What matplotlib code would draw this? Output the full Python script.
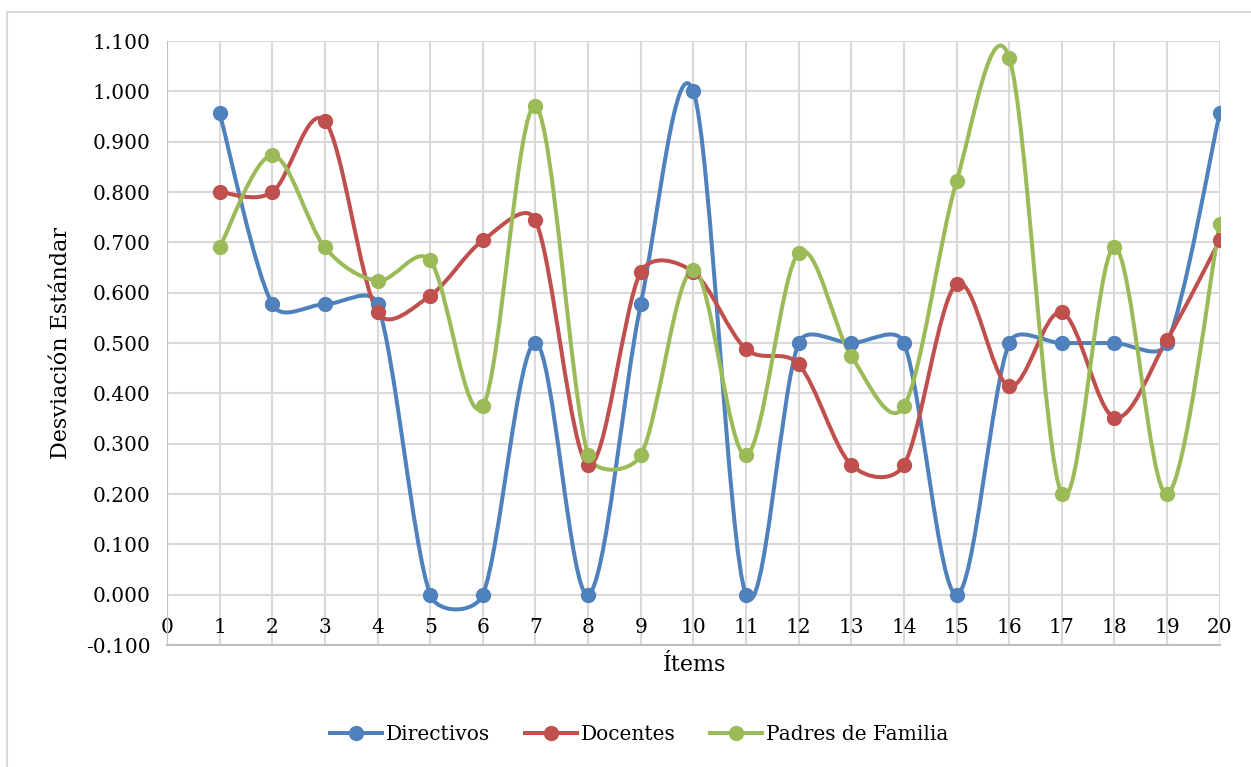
import numpy as np
import matplotlib.pyplot as plt
from matplotlib.path import Path
from matplotlib.patches import PathPatch
from matplotlib.lines import Line2D

items = list(range(1, 21))

directivos = [0.957, 0.577, 0.577, 0.577, 0.000, 0.000, 0.500, 0.000, 0.577, 1.000,
              0.000, 0.500, 0.500, 0.500, 0.000, 0.500, 0.500, 0.500, 0.500, 0.957]
docentes = [0.800, 0.800, 0.941, 0.561, 0.594, 0.704, 0.744, 0.258, 0.641, 0.641,
            0.488, 0.458, 0.258, 0.258, 0.617, 0.414, 0.561, 0.352, 0.507, 0.704]
padres = [0.690, 0.873, 0.690, 0.624, 0.664, 0.374, 0.970, 0.277, 0.277, 0.646,
          0.277, 0.679, 0.474, 0.374, 0.821, 1.067, 0.200, 0.690, 0.200, 0.737]

series = [("Directivos", directivos, "#4F81BD"),
          ("Docentes", docentes, "#C0504D"),
          ("Padres de Familia", padres, "#9BBB59")]

yticks = np.round(np.arange(-0.1, 1.101, 0.1), 1)


def smooth_path(x, y, sx, sy):
    # curva suavizada tipo Excel: brazo de control = 1/6 de la cuerda
    # vecina, limitado a una fraccion del tramo (medido en pixeles)
    p = np.column_stack([x, y]).astype(float)
    esc = np.array([sx, sy])
    n = len(p)

    def dist(a, b):
        return np.hypot(*((b - a) * esc))

    def factor(d_tramo, d_cuerda):
        if d_cuerda == 0:
            return 0.0
        return min(1 / 6, 0.4 * d_tramo / d_cuerda)

    verts = [p[0]]
    codes = [Path.MOVETO]
    for i in range(n - 1):
        p0 = p[i - 1] if i > 0 else p[i]
        p3 = p[i + 2] if i + 2 < n else p[i + 1]
        d12 = dist(p[i], p[i + 1])
        c1 = p[i] + (p[i + 1] - p0) * factor(d12, dist(p0, p[i + 1]))
        c2 = p[i + 1] - (p3 - p[i]) * factor(d12, dist(p[i], p3))
        verts += [c1, c2, p[i + 1]]
        codes += [Path.CURVE4] * 3
    return Path(verts, codes)


plt.rcParams["font.family"] = ["DejaVu Serif"]

fig = plt.figure(figsize=(12.51, 7.67), dpi=100)
rect = [0.1335, 0.159, 0.8415, 0.7875]
ax = fig.add_axes(rect)

ax.set_xlim(0, 20)
ax.set_ylim(-0.1, 1.1)
px_x = rect[2] * 1251 / 20
px_y = rect[3] * 767 / 1.2

for nombre, vals, color in series:
    ax.add_patch(PathPatch(smooth_path(items, vals, px_x, px_y), fill=False,
                           edgecolor=color, lw=2.9, capstyle="round",
                           joinstyle="round", zorder=3))
    ax.plot(items, vals, "o", color=color, ms=10, zorder=4)

ax.set_xticks(range(0, 21))
ax.set_yticks(yticks)
ax.set_yticklabels([f"{v:.3f}" for v in yticks])
ax.grid(True, color="#D9D9D9", lw=1.5, zorder=0)
ax.set_axisbelow(True)

for s in ["top", "right", "left"]:
    ax.spines[s].set_visible(False)
ax.spines["bottom"].set_position(("data", 0))
ax.spines["bottom"].set_visible(False)
ax.tick_params(axis="both", length=0, labelsize=14.5)
ax.tick_params(axis="x", pad=17)
ax.tick_params(axis="y", pad=12)
ax.axvline(0, color="#BFBFBF", lw=1.5, zorder=1)
ax.axhline(-0.1, color="#BFBFBF", lw=1.5, zorder=1, clip_on=False)

ax.set_ylabel("Desviación Estándar", fontsize=16, labelpad=10)
fig.text(0.555, 0.133, "Ítems", fontsize=16, ha="center", va="center")

handles = [Line2D([], [], color=c, lw=2.9, marker="o", ms=10) for _, _, c in series]
fig.legend(handles, [n for n, _, _ in series], loc="center", ncol=3,
           bbox_to_anchor=(0.511, 0.042), frameon=False, fontsize=14.5,
           handlelength=2.6, handletextpad=0.2, columnspacing=1.7)

# borde exterior del grafico
fig.add_artist(Line2D([7 / 1251, 1], [1 - 12 / 767, 1 - 12 / 767], color="#D9D9D9", lw=1.5))
fig.add_artist(Line2D([7 / 1251, 7 / 1251], [0, 1 - 12 / 767], color="#D9D9D9", lw=1.5))

fig.savefig("out.png", dpi=100, facecolor="white")
